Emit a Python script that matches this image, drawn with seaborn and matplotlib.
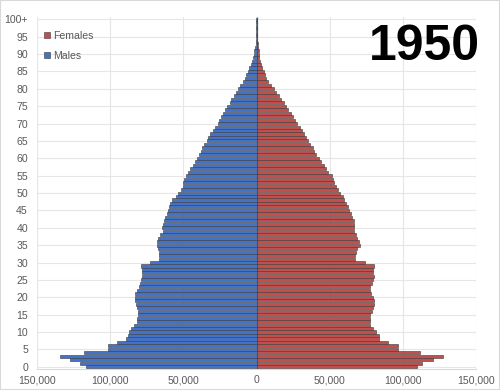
import matplotlib
matplotlib.use("Agg")
import matplotlib.pyplot as plt
import seaborn as sns
import pandas as pd
import numpy as np
from matplotlib.patches import Rectangle

ages = list(range(101))
males_k = [116.5, 120.3, 127.5, 134.4, 118.0, 101.5, 101.5, 95.0, 89.0, 87.5,
           87.0, 85.5, 83.5, 82.0, 81.5, 81.3, 81.3, 81.6, 82.5, 83.2,
           83.2, 82.8, 81.8, 80.5, 79.3, 78.8, 78.5, 78.5, 78.3, 78.6,
           73.0, 66.6, 66.6, 66.6, 67.1, 68.2, 68.2, 67.5, 65.9, 64.2,
           64.4, 64.0, 63.5, 62.5, 61.0, 60.3, 59.6, 58.9, 58.0, 55.3,
           53.5, 51.9, 50.5, 50.0, 49.4, 48.2, 46.6, 45.5, 43.7, 42.1,
           40.5, 39.1, 38.0, 37.1, 35.7, 34.1, 33.0, 31.8, 30.0, 28.3,
           26.4, 25.7, 24.1, 23.0, 21.4, 20.0, 18.4, 17.3, 15.5, 13.9,
           12.7, 11.1, 9.3, 8.2, 7.0, 5.9, 4.8, 4.1, 3.4, 2.5,
           2.0, 1.4, 0.9, 0.6, 0.4, 0.3, 0.2, 0.1, 0.1, 0.05, 0.05]
females_k = [110.0, 113.0, 120.3, 127.5, 111.6, 96.4, 97.0, 90.0, 83.9, 83.4,
             82.0, 79.8, 77.7, 77.5, 77.5, 77.7, 78.9, 79.8, 80.2, 80.0,
             79.3, 78.2, 77.5, 77.7, 78.9, 79.8, 80.2, 79.8, 79.3, 80.5,
             74.3, 67.0, 67.5, 68.0, 68.7, 70.9, 70.2, 68.4, 68.0, 66.8,
             66.4, 66.8, 66.4, 65.3, 64.6, 63.4, 62.3, 61.2, 60.0, 58.9,
             57.1, 55.5, 54.3, 53.2, 52.5, 51.6, 49.1, 47.5, 45.9, 44.1,
             42.5, 40.7, 39.5, 38.4, 36.8, 35.0, 33.9, 32.7, 31.2, 29.5,
             27.8, 26.4, 25.2, 23.6, 21.8, 20.5, 18.6, 16.8, 15.5, 13.2,
             11.8, 10.0, 8.2, 6.8, 5.9, 5.0, 4.1, 3.2, 2.5, 2.0,
             1.6, 1.4, 1.1, 0.7, 0.5, 0.4, 0.3, 0.2, 0.1, 0.1, 0.1]
x_ticks = [-150000, -100000, -50000, 0, 50000, 100000, 150000]
x_labels = ["150,000", "100,000", "50,000", "0", "50,000", "100,000", "150,000"]
y_ticks = list(range(0, 101, 5))
y_labels = [str(v) for v in range(0, 100, 5)] + ["100+"]
year_title = "1950"

df = pd.DataFrame({
    "Age": ages * 2,
    "Population": [v * 1000 for v in females_k] + [-v * 1000 for v in males_k],
    "Sex": ["Females"] * len(ages) + ["Males"] * len(ages),
})

sns.set_theme(style="white")
plt.rcParams["font.family"] = ["Liberation Sans", "DejaVu Sans"]

fig = plt.figure(figsize=(5.0, 3.9), dpi=100)
ax = fig.add_axes([37 / 500, 1 - 368.5 / 390, (476 - 37) / 500, (368.5 - 17.3) / 390])

sns.barplot(data=df, x="Population", y="Age", hue="Sex", orient="y",
            native_scale=True, dodge=False, width=0.88, saturation=1,
            hue_order=["Females", "Males"],
            palette={"Females": "#C0504D", "Males": "#4472C4"},
            edgecolor="#3a3a3a", linewidth=0.4, ax=ax, zorder=3)

ax.set_xlim(-150000, 150000)
ax.set_ylim(-0.5, 100.6)
ax.set_xticks(x_ticks)
ax.set_xticklabels(x_labels)
ax.set_yticks(y_ticks)
ax.set_yticklabels(y_labels)
ax.tick_params(axis="both", length=0, labelsize=7.6, colors="#595959")
ax.tick_params(axis="y", pad=6.5)
ax.tick_params(axis="x", pad=5)
ax.set_xlabel("")
ax.set_ylabel("")
ax.grid(True, color="#e6e6e6", linewidth=0.8, zorder=0)
ax.set_axisbelow(True)
for s in ["top", "right", "left"]:
    ax.spines[s].set_visible(False)
ax.spines["bottom"].set_color("#d9d9d9")
ax.spines["bottom"].set_linewidth(0.8)
ax.axvline(0, color="#a6a6a6", linewidth=1.0, zorder=2)

handles, labels = ax.get_legend_handles_labels()
ax.legend(handles, labels, loc="upper left", bbox_to_anchor=(0.0, 0.982),
          frameon=False, fontsize=7.6, labelcolor="#595959",
          handlelength=0.55, handleheight=0.55, handletextpad=0.25,
          labelspacing=0.95, borderaxespad=0.3)

fig.text(480 / 500, 1 - 60 / 390, year_title, ha="right", va="baseline",
         fontsize=36, fontweight="bold", color="black")

fig.patches.append(Rectangle((0, 0), 1, 1, transform=fig.transFigure,
                             fill=False, edgecolor="#d9d9d9", linewidth=1.5))

fig.savefig("out.png", dpi=100)
